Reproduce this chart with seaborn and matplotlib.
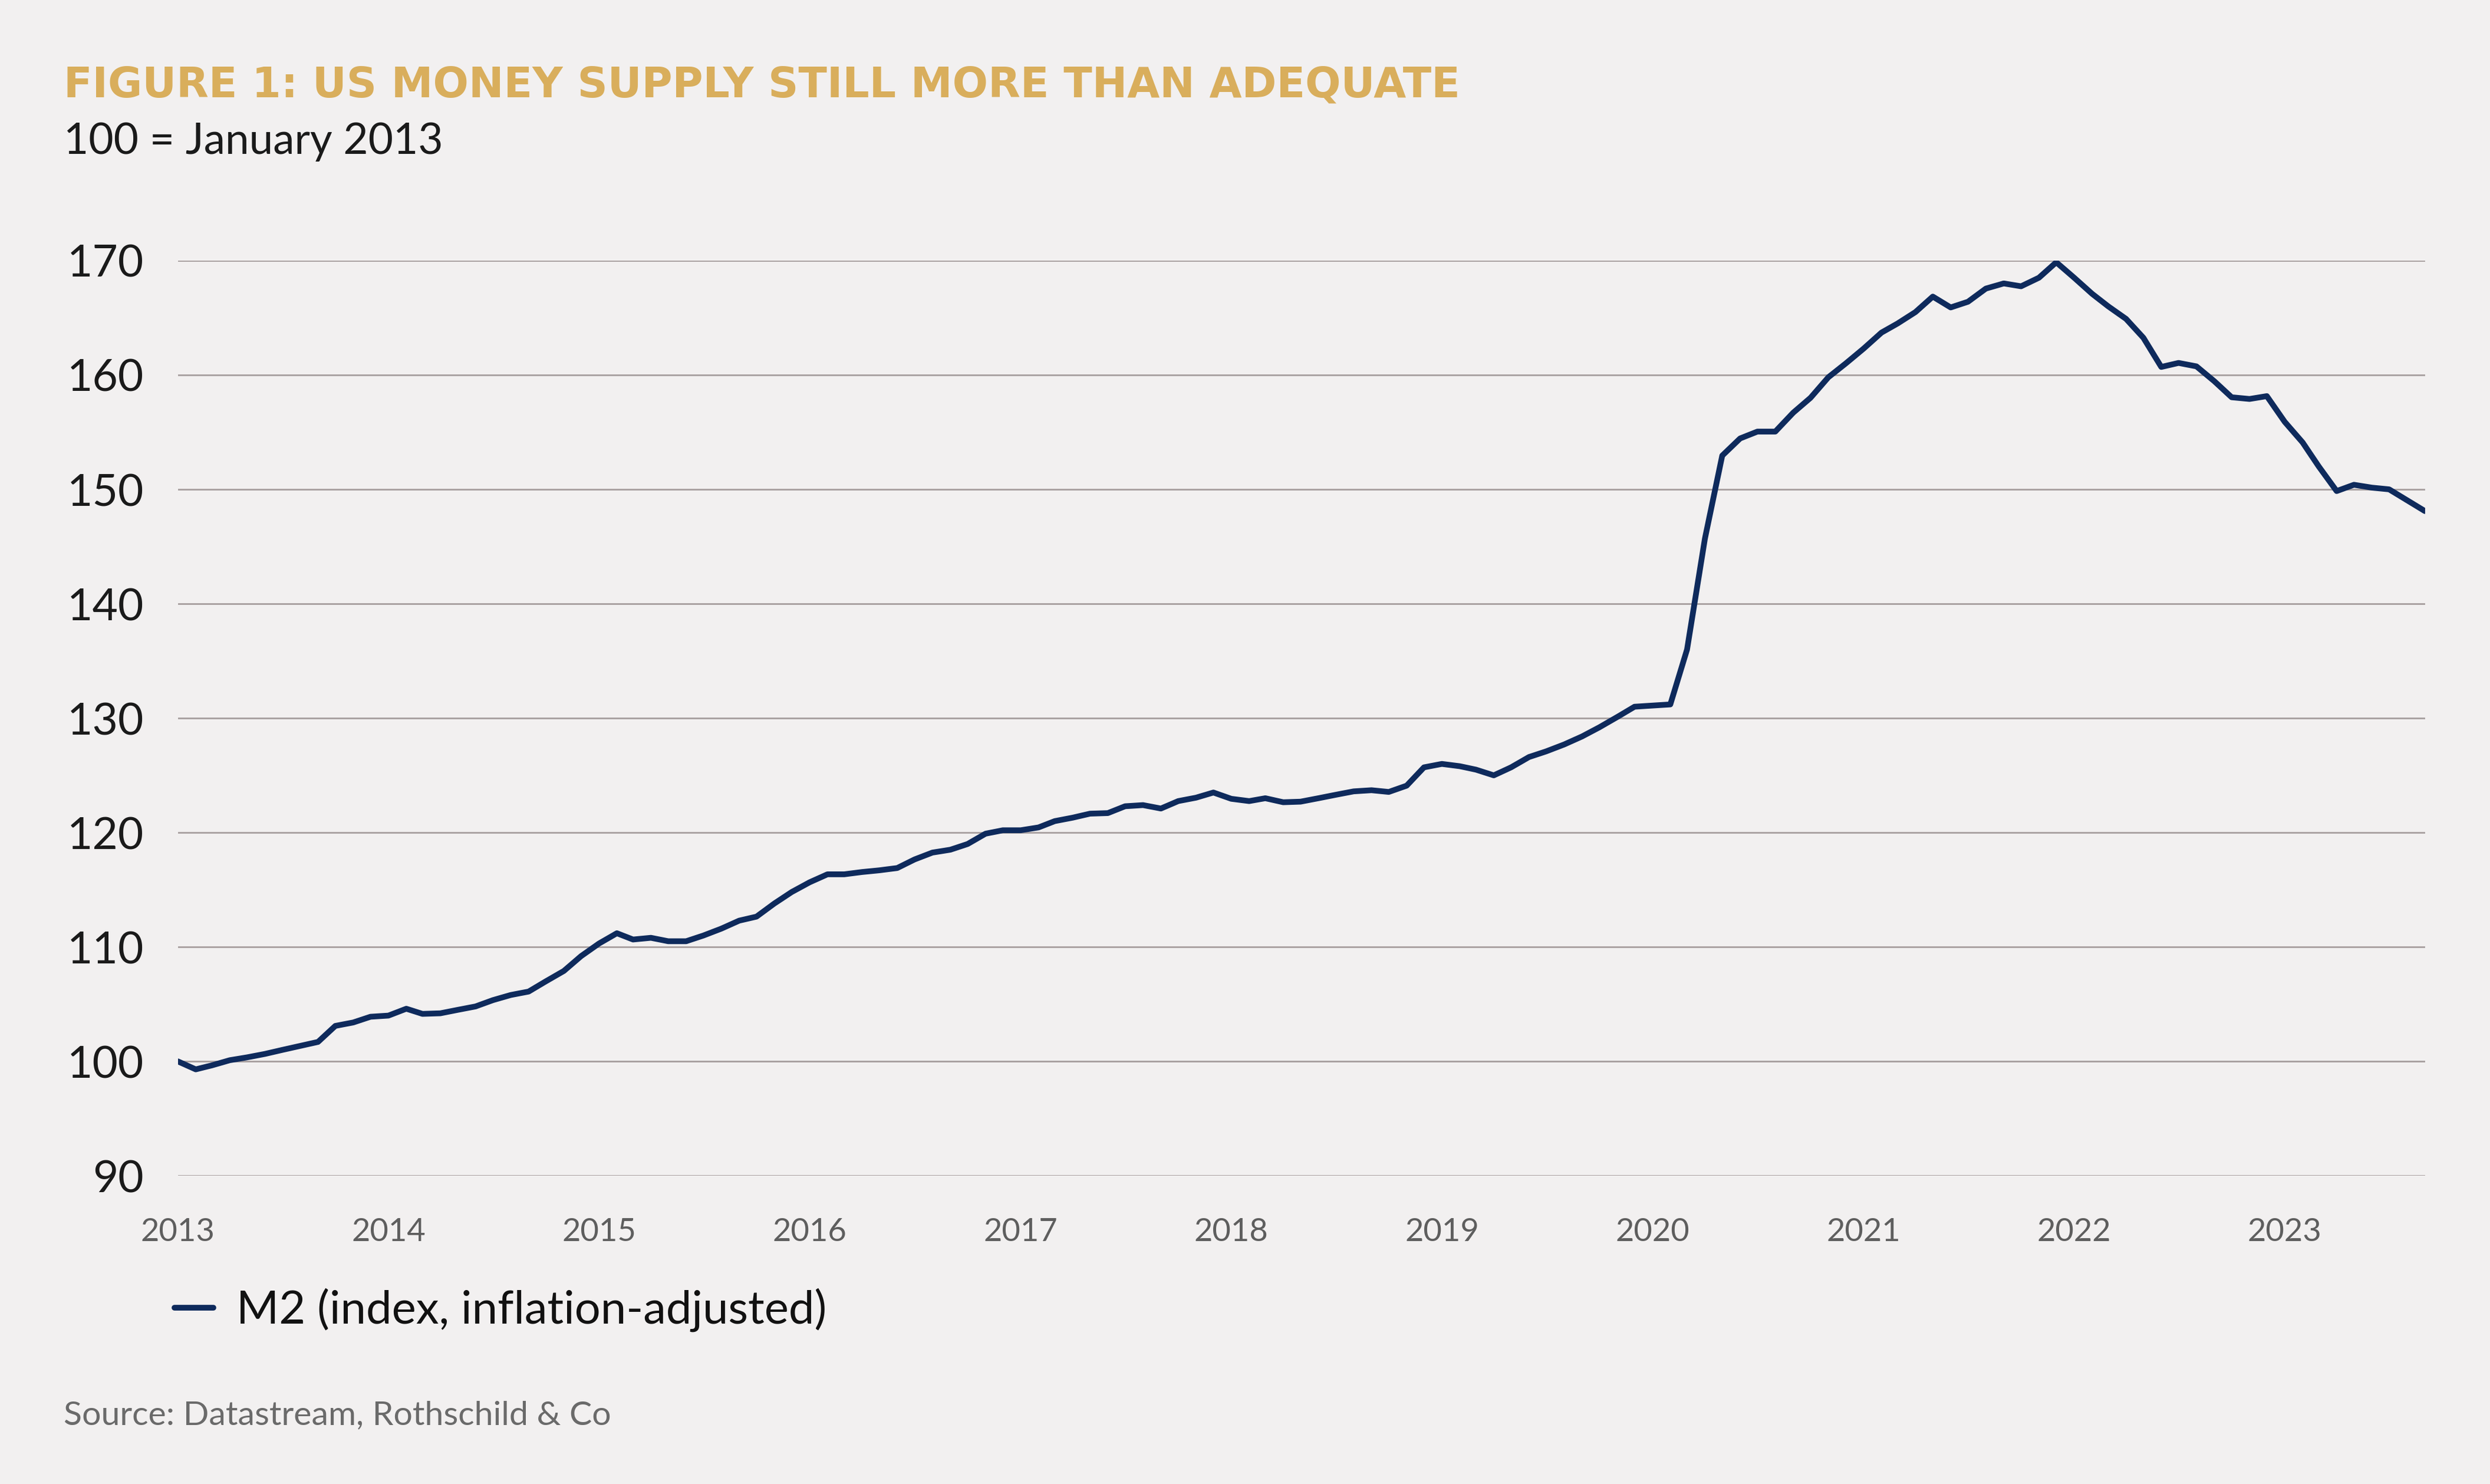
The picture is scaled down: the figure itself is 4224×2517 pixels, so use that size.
import numpy as np
import pandas as pd
import matplotlib
matplotlib.use("Agg")
import matplotlib.pyplot as plt
import seaborn as sns

# ---------------- data ----------------
m2_index = [
    100.0, 99.3, 99.65, 100.1, 100.35, 100.65, 101.0, 101.35, 101.7, 103.1, 103.4, 103.9,   # 2013
    104.0, 104.6, 104.15, 104.2, 104.5, 104.8, 105.35, 105.8, 106.1, 107.0, 107.9, 109.2,   # 2014
    110.3, 111.2, 110.65, 110.8, 110.5, 110.5, 111.0, 111.6, 112.3, 112.65, 113.8, 114.8,   # 2015
    115.65, 116.35, 116.35, 116.55, 116.7, 116.9, 117.65, 118.25, 118.5, 119.0, 119.9, 120.2,  # 2016
    120.2, 120.45, 121.0, 121.3, 121.65, 121.7, 122.3, 122.4, 122.1, 122.75, 123.05, 123.5,  # 2017
    122.95, 122.75, 123.0, 122.65, 122.7, 123.0, 123.3, 123.6, 123.7, 123.55, 124.1, 125.7,  # 2018
    126.0, 125.8, 125.5, 125.0, 125.7, 126.6, 127.1, 127.7, 128.4, 129.2, 130.1, 131.0,     # 2019
    131.1, 131.2, 136.0, 145.7, 152.95, 154.45, 155.05, 155.05, 156.7, 158.0, 159.8, 161.0,  # 2020
    162.3, 163.7, 164.5, 165.5, 166.85, 165.9, 166.4, 167.55, 168.0, 167.75, 168.5, 169.85,  # 2021
    168.5, 167.1, 166.0, 164.9, 163.25, 160.7, 161.05, 160.75, 159.45, 158.05, 157.9, 158.15,  # 2022
    155.9, 154.1, 152.0, 149.85, 150.4, 150.15, 150.0, 149.05, 148.1,                        # 2023
]
start_month = "2013-01-01"
year_ticks = list(range(2013, 2024))
y_ticks = [90, 100, 110, 120, 130, 140, 150, 160, 170]
series_label = "M2 (index, inflation-adjusted)"
title_text = "FIGURE 1: US MONEY SUPPLY STILL MORE THAN ADEQUATE"
subtitle_text = "100 = January 2013"
source_text = "Source: Datastream, Rothschild & Co"

# ---------------- styling ----------------
BG = "#F2F0F0"
NAVY = "#0E2A5C"
GOLD = "#D9AE5C"
GRID = "#ABA3A3"

dates = pd.date_range(start_month, periods=len(m2_index), freq="MS")
df = pd.DataFrame({"date": dates, "value": m2_index, "series": series_label})

sns.set_theme(style="white")
plt.rcParams["font.family"] = ["Lato", "DejaVu Sans"]

W, H = 1568.0, 934.0
fig = plt.figure(figsize=(15.68, 9.3435), dpi=269.39, facecolor=BG)
ax = fig.add_axes([112 / W, 1 - 740 / H, (1527 - 112) / W, (740 - 164) / H])
ax.set_facecolor(BG)

sns.lineplot(data=df, x="date", y="value", hue="series", palette=[NAVY],
             linewidth=2.6, ax=ax, legend=False)

ax.set_ylim(90, 170)
ax.set_xlim(dates[0], dates[-1])
ax.set_yticks(y_ticks)
ax.set_yticklabels([str(v) for v in y_ticks], fontsize=20, color="#1A1A1A")
ax.set_xticks([pd.Timestamp(f"{y}-01-01") for y in year_ticks])
ax.set_xticklabels([str(y) for y in year_ticks], fontsize=14.5, color="#5E5E5E")
ax.tick_params(axis="y", length=0, pad=15.5)
ax.tick_params(axis="x", length=0, pad=19)
ax.set_xlabel("")
ax.set_ylabel("")
for s in ax.spines.values():
    s.set_visible(False)
ax.grid(axis="y", color=GRID, linewidth=0.8)
ax.grid(axis="x", visible=False)
ax.set_axisbelow(True)

# legend
leg = ax.legend(handles=ax.lines[:1], labels=[series_label], loc="center left",
                bbox_to_anchor=(110 / W, 1 - 824.5 / H), bbox_transform=fig.transFigure,
                frameon=False, fontsize=20.8, handlelength=0.85, handletextpad=0.5,
                borderpad=0, borderaxespad=0)
for t in leg.get_texts():
    t.set_color("#111111")

# titles and source
fig.text(40 / W, 1 - 61 / H, title_text, fontsize=19, fontweight="bold",
         color=GOLD, family=["DejaVu Sans"], va="baseline", ha="left")
fig.text(40 / W, 1 - 97 / H, subtitle_text, fontsize=19.5, fontweight="normal",
         color="#1A1A1A", va="baseline", ha="left")
fig.text(40 / W, 1 - 891 / H, source_text, fontsize=15.3, color="#6A6A6A",
         va="center", ha="left")

fig.savefig("out.png", dpi=269.39, facecolor=BG)
